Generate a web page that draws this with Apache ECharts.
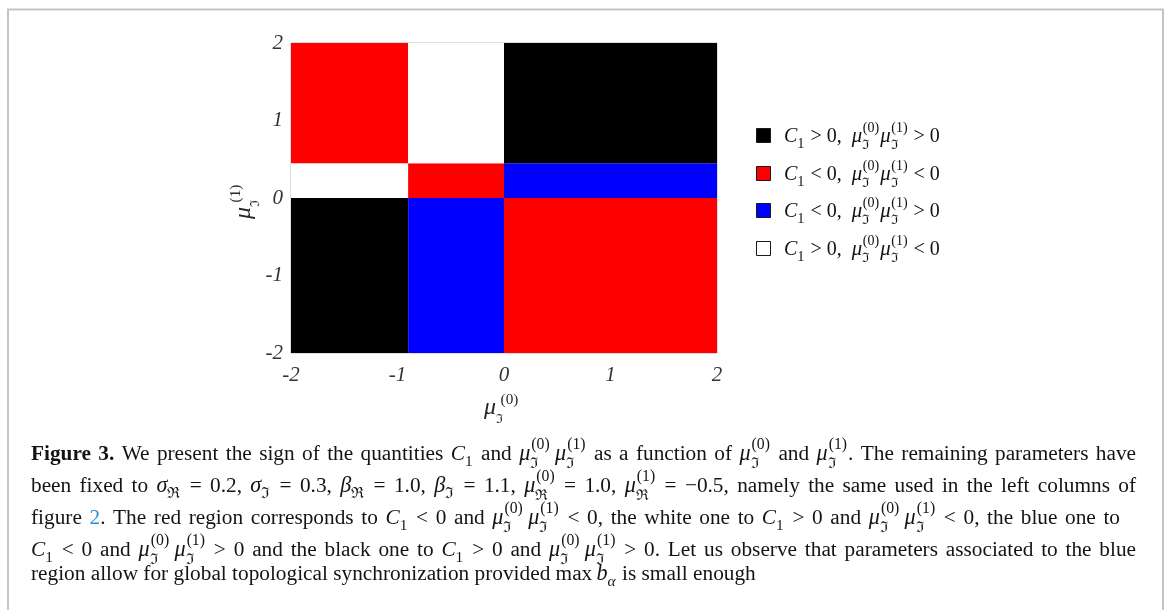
<!DOCTYPE html>
<html>
<head>
<meta charset="utf-8">
<title>Sign regions of C1 and the imaginary mean product</title>
<script src="https://cdn.jsdelivr.net/npm/echarts@6/dist/echarts.min.js"></script>
<style>
  html, body { margin: 0; padding: 0; background: #ffffff; }
  #chart { width: 1167px; height: 610px; }
</style>
</head>
<body>
<div id="chart"></div>
<script>
// Region boundaries along μℑ(0) (x) and μℑ(1) (y)
const xEdges = [-2, -0.9, 0, 2];
const yEdges = [-2, 0, 0.45, 2];
// Sign class of every region; rows go up in y, columns go right in x
// 0: C1>0, prod>0   1: C1<0, prod<0   2: C1<0, prod>0   3: C1>0, prod<0
const regionClass = [
  [0, 2, 1],
  [3, 1, 2],
  [1, 3, 0]
];
const classSignC1 = ['>', '<', '<', '>'];
const classSignProduct = ['>', '<', '>', '<'];
const classColors = ['#000000', '#ff0000', '#0000ff', '#ffffff'];
const axisTicks = [-2, -1, 0, 1, 2];

const SERIF = "'Liberation Serif', 'DejaVu Serif', serif";

// ---------- small inline-math text setter ----------
const mctx = document.createElement('canvas').getContext('2d');
const KIND = {
  r: { style: 'normal', weight: 'normal' },
  i: { style: 'italic', weight: 'normal' },
  b: { style: 'normal', weight: 'bold' },
  l: { style: 'normal', weight: 'normal', color: '#2b8fd0' }
};
function fontFor(kind, size) {
  const k = KIND[kind];
  return k.style + ' ' + k.weight + ' ' + size.toFixed(2) + 'px ' + SERIF;
}
function textWidth(s, font) { mctx.font = font; return mctx.measureText(s).width; }
const midCache = {};
// distance from the 'middle' line to the alphabetic baseline
function middleShift(font) {
  if (midCache[font] == null) {
    mctx.font = font;
    mctx.textBaseline = 'alphabetic';
    const a = mctx.measureText('Hg').fontBoundingBoxAscent;
    mctx.textBaseline = 'middle';
    const b = mctx.measureText('Hg').fontBoundingBoxAscent;
    mctx.textBaseline = 'alphabetic';
    midCache[font] = a - b;
  }
  return midCache[font];
}
const R = s => ({ t: s, k: 'r' });
const It = s => ({ t: s, k: 'i' });
const Bd = s => ({ t: s, k: 'b' });
const Lk = s => ({ t: s, k: 'l' });
const MI = s => ({ t: s, k: 'i', sz: 1.04 });           // math italic symbol
const sub = (s, k) => ({ t: s, k: k || 'r', sz: 0.72, dy: 0.3, pad: 0.05 });
const C1 = () => [It('C'), sub('1')];
// μ with stacked superscript order and field subscript
const mu = (order, field, m) => {
  m = m || {};
  return [MI('μ'), { stack: [
    { t: '(' + order + ')', k: 'r', sz: m.supSz || 0.74, dy: m.supDy || -0.52, dx: m.supDx || 0.05, pad: 0.05 },
    { t: field, k: 'r', sz: m.subSz || 0.7, dy: m.subDy || 0.36, dx: 0, pad: 0.05 }
  ] }];
};

// Lay tokens along a baseline starting at local (0, 0).
// When a target width is given, inter-word spaces stretch to fill it.
function setMath(tokens, size, color, target) {
  const items = [];
  tokens.forEach(tok => {
    if (tok.stack || tok.sz) { items.push(tok.stack ? { stack: tok.stack } : { run: tok }); return; }
    tok.t.split(/( )/).forEach(part => {
      if (part === '') return;
      if (part === ' ') items.push({ space: true, run: tok });
      else items.push({ run: { t: part, k: tok.k } });
    });
  });
  const runWidth = run => {
    const sz = size * (run.sz || 1);
    return ((run.dx || 0) + (run.pad || 0)) * size + textWidth(run.t, fontFor(run.k, sz));
  };
  const itemWidth = it => it.stack ? Math.max.apply(null, it.stack.map(runWidth))
    : it.space ? textWidth(' ', fontFor(it.run.k, size)) : runWidth(it.run);
  let natural = 0, spaces = 0;
  items.forEach(it => { natural += itemWidth(it); if (it.space) spaces++; });
  const extra = (target && spaces) ? (target - natural) / spaces : 0;

  const els = [];
  const put = (run, x0) => {
    const sz = size * (run.sz || 1);
    const font = fontFor(run.k, sz);
    els.push({
      type: 'text', x: x0 + (run.dx || 0) * size, y: (run.dy || 0) * size - middleShift(font),
      silent: true,
      style: { text: run.t, font: font, fill: KIND[run.k].color || color,
               textAlign: 'left', textVerticalAlign: 'middle' }
    });
  };
  let x = 0;
  items.forEach(it => {
    if (it.stack) it.stack.forEach(r => put(r, x));
    else if (!it.space) put(it.run, x);
    x += itemWidth(it) + (it.space ? extra : 0);
  });
  return els;
}
function mathGroup(tokens, size, color, x, y, opts) {
  opts = opts || {};
  return { type: 'group', x: x, y: y, rotation: opts.rotation || 0, silent: true,
           children: setMath(tokens, size, color, opts.width) };
}

// ---------- caption ----------
const prodI = () => [...mu('0', 'ℑ'), R('\u2009'), ...mu('1', 'ℑ')];
const captionLines = [
  [Bd('Figure 3.'), R(' We present the sign of the quantities '), ...C1(), R(' and '), ...prodI(),
   R(' as a function of '), ...mu('0', 'ℑ'), R(' and '), ...mu('1', 'ℑ'), R('. The remaining parameters have')],
  [R('been fixed to '), MI('σ'), sub('ℜ'), R(' = 0.2, '), MI('σ'), sub('ℑ'), R(' = 0.3, '),
   MI('β'), sub('ℜ'), R(' = 1.0, '), MI('β'), sub('ℑ'), R(' = 1.1, '), ...mu('0', 'ℜ'), R(' = 1.0, '),
   ...mu('1', 'ℜ'), R(' = −0.5, namely the same used in the left columns of')],
  [R('figure '), Lk('2'), R('. The red region corresponds to '), ...C1(), R(' < 0 and '), ...prodI(),
   R(' < 0, the white one to '), ...C1(), R(' > 0 and '), ...prodI(), R(' < 0, the blue one to')],
  [...C1(), R(' < 0 and '), ...prodI(), R(' > 0 and the black one to '), ...C1(), R(' > 0 and '),
   ...prodI(), R(' > 0. Let us observe that parameters associated to the blue')],
  [R('region allow for global topological synchronization provided max\u2009'), MI('b'), sub('α', 'i'),
   R(' is small enough')]
];
const captionBaselines = [460, 492, 524, 556, 580];
const captionWidths = [1105, 1105, 1089, 1105, null];

// ---------- regions ----------
const cells = [];
regionClass.forEach((row, j) => row.forEach((cls, i) => {
  cells.push([xEdges[i], xEdges[i + 1], yEdges[j], yEdges[j + 1], cls]);
}));

const graphics = [];
// figure frame
graphics.push({ type: 'rect', silent: true, z: 0,
  shape: { x: 8, y: 9.5, width: 1155, height: 640 },
  style: { fill: 'none', stroke: '#c4c4c4', lineWidth: 2 } });

// axis titles
const titleScripts = { supSz: 0.66, supDy: -0.42, supDx: 0.2, subSz: 0.55, subDy: 0.38 };
graphics.push(mathGroup(mu('0', 'ℑ', titleScripts), 23, '#262626', 484, 414));
graphics.push(mathGroup(mu('1', 'ℑ', titleScripts), 23, '#262626', 250, 219, { rotation: Math.PI / 2 }));

// legend
const legendBaselines = [142, 180, 217, 255];
const legendScripts = { supSz: 0.7, supDy: -0.5, supDx: 0.03, subSz: 0.66, subDy: 0.34 };
classColors.forEach((c, k) => {
  const by = legendBaselines[k];
  graphics.push({ type: 'rect', silent: true,
    shape: { x: 756.5, y: by - 13.5, width: 14, height: 14 },
    style: { fill: c, stroke: '#1a1a1a', lineWidth: 1 } });
  const toks = [...C1(), R(' ' + classSignC1[k] + ' 0,\u2002'), ...mu('0', 'ℑ', legendScripts),
                ...mu('1', 'ℑ', legendScripts), R(' ' + classSignProduct[k] + ' 0')];
  graphics.push(mathGroup(toks, 20, '#111111', 784, by));
});

captionLines.forEach((line, k) => {
  graphics.push(mathGroup(line, 21.3, '#141414', 31, captionBaselines[k], { width: captionWidths[k] }));
});

const tickLabel = {
  fontFamily: SERIF, fontStyle: 'italic', fontSize: 21, color: '#333333'
};

const option = {
  animation: false,
  backgroundColor: '#ffffff',
  grid: { left: 291, top: 43, width: 426, height: 310, show: true,
          borderColor: '#bdbdbd', borderWidth: 1, backgroundColor: 'transparent' },
  xAxis: {
    type: 'value', min: axisTicks[0], max: axisTicks[axisTicks.length - 1], interval: 1,
    axisLine: { show: false }, axisTick: { show: false }, splitLine: { show: false },
    axisLabel: Object.assign({ margin: 12 }, tickLabel)
  },
  yAxis: {
    type: 'value', min: axisTicks[0], max: axisTicks[axisTicks.length - 1], interval: 1,
    axisLine: { show: false }, axisTick: { show: false }, splitLine: { show: false },
    axisLabel: Object.assign({ margin: 8 }, tickLabel)
  },
  series: [{
    type: 'custom',
    data: cells,
    encode: { x: [0, 1], y: [2, 3] },
    renderItem: function (params, api) {
      const p0 = api.coord([api.value(0), api.value(3)]);
      const p1 = api.coord([api.value(1), api.value(2)]);
      return {
        type: 'rect',
        shape: { x: p0[0], y: p0[1], width: p1[0] - p0[0], height: p1[1] - p0[1] },
        style: { fill: classColors[api.value(4)] }
      };
    }
  }],
  graphic: graphics
};

const chart = echarts.init(document.getElementById('chart'), null, { renderer: 'canvas' });
chart.setOption(option);
</script>
</body>
</html>
